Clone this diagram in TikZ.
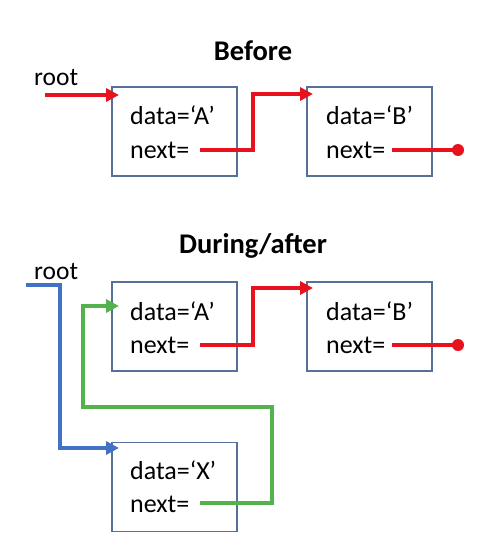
\documentclass[tikz,border=0pt]{standalone}
\usepackage{fontspec}
\setmainfont{Carlito}
\usetikzlibrary{arrows.meta}
\definecolor{cred}{RGB}{232,18,30}
\definecolor{cblue}{RGB}{66,114,196}
\definecolor{cgreen}{RGB}{84,178,76}
\definecolor{cbox}{RGB}{86,112,152}
\tikzset{
  x=1pt,y=-1pt,
  listbox/.style={draw=cbox,line width=1.3pt,minimum width=125pt,minimum height=89pt,inner sep=0pt},
  field/.style={anchor=base west,inner sep=0pt,font=\fontsize{26}{30}\selectfont},
  lbl/.style={anchor=base west,inner sep=0pt,font=\fontsize{25.5}{30}\selectfont},
  ttl/.style={anchor=base,inner sep=0pt,font=\fontsize{28.5}{32}\selectfont\bfseries},
  ptr/.style={line width=4.2pt,-{Triangle[length=13pt,width=13pt]}},
  ptrend/.style={line width=4.2pt},
  dotend/.style={fill=cred,circle,inner sep=0pt,minimum size=12pt},
}
\begin{document}
\begin{tikzpicture}
\useasboundingbox (0,0) rectangle (481,557);
% ---------- Before ----------
\node[ttl] (t1) at (253,60) {Before};
\node[lbl] (r1) at (34,85) {root};
\node[listbox] (a1) at (174.5,131.5) {};
\node[field] (a1d) at (130,124) {data=‘A’};
\node[field] (a1n) at (130,158) {next=};
\node[listbox] (b1) at (369.5,131.5) {};
\node[field] (b1d) at (326,124) {data=‘B’};
\node[field] (b1n) at (326,158) {next=};
\coordinate (r1s) at (45,95);
\coordinate (a1in) at (119,95);
\coordinate (a1p) at (200,150);
\coordinate (b1in) at (313,94);
\coordinate (b1p) at (392,150);
\node[dotend] (n1) at (458,150) {};
\draw[ptr,cred] (r1s) -- (a1in);
\draw[ptr,cred] (a1p) -- (253,150) -- (253,94) -- (b1in);
\draw[ptrend,cred] (b1p) -- (n1.center);
% ---------- During/after ----------
\node[ttl] (t2) at (253,253) {During/after};
\node[lbl] (r2) at (34,279) {root};
\node[listbox] (a2) at (174.5,326.5) {};
\node[field] (a2d) at (130,320) {data=‘A’};
\node[field] (a2n) at (130,353) {next=};
\node[listbox] (b2) at (369.5,326.5) {};
\node[field] (b2d) at (326,320) {data=‘B’};
\node[field] (b2n) at (326,353) {next=};
\node[listbox] (x2) at (174.5,487) {};
\node[field] (x2d) at (130,479) {data=‘X’};
\node[field] (x2n) at (130,512) {next=};
\coordinate (r2s) at (26,285);
\coordinate (x2in) at (119,448);
\coordinate (a2in) at (119,306);
\coordinate (a2p) at (200,345);
\coordinate (b2in) at (313,288);
\coordinate (b2p) at (392,345);
\coordinate (x2p) at (200,503);
\node[dotend] (n2) at (458,345) {};
\draw[ptr,cblue] (r2s) -- (60,285) -- (60,448) -- (x2in);
\draw[ptr,cgreen] (x2p) -- (272,503) -- (272,407) -- (83,407) -- (83,306) -- (a2in);
\draw[ptr,cred] (a2p) -- (253,345) -- (253,288) -- (b2in);
\draw[ptrend,cred] (b2p) -- (n2.center);
\end{tikzpicture}
\end{document}
